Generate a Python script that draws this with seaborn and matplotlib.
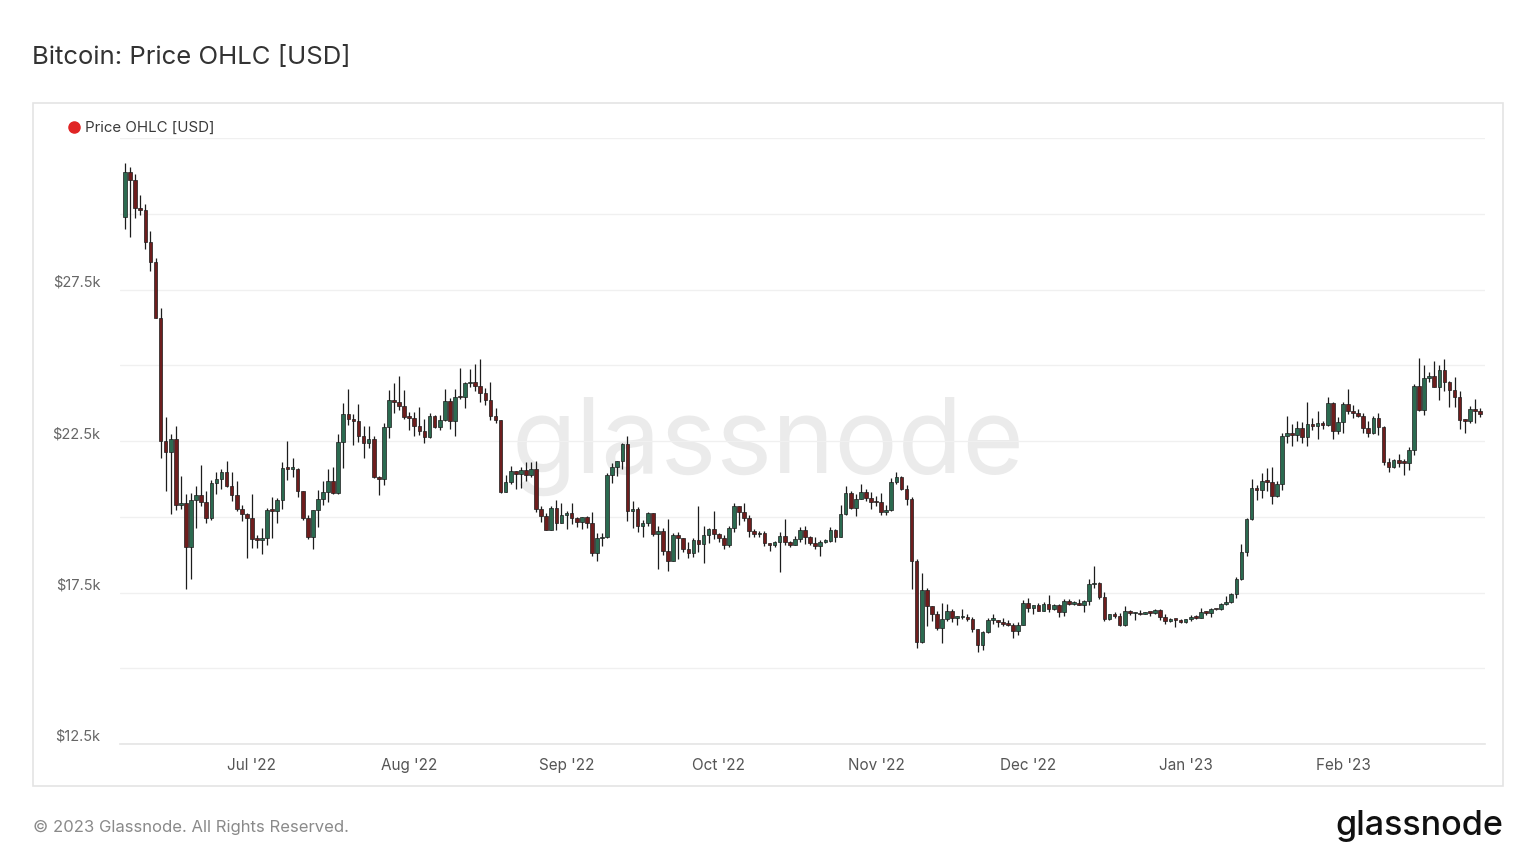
import matplotlib
matplotlib.use("Agg")
import matplotlib.pyplot as plt
import matplotlib.dates as mdates
from matplotlib.patches import Rectangle
from matplotlib.lines import Line2D
import numpy as np
import pandas as pd
import seaborn as sns

# daily BTC candles, prices in thousand USD, first day 2022-06-06
first_day = "2022-06-06"
first_open = 29.90

close_jun = [31.37, 31.13, 30.20, 30.11, 29.08, 28.42, 26.57, 22.49, 22.14, 22.58, 20.38, 20.47, 19.00,
             20.55, 20.71, 20.50, 19.97, 21.10, 21.23, 21.49, 21.03, 20.73, 20.27, 20.10, 19.95]
high_jun = [31.69, 31.55, 31.32, 30.63, 30.33, 29.44, 28.54, 26.88, 23.30, 22.73, 22.98, 21.33, 20.76,
            20.79, 21.00, 21.70, 20.85, 21.20, 21.48, 21.58, 21.85, 21.48, 21.18, 20.40, 20.14]
low_jun = [29.51, 29.22, 29.86, 29.95, 28.85, 28.10, 26.56, 21.93, 20.85, 20.08, 20.23, 20.25, 17.62,
           17.94, 19.64, 20.35, 19.80, 19.90, 20.75, 20.90, 20.99, 20.52, 20.19, 19.85, 18.63]

close_jul = [19.27, 19.24, 19.30, 20.23, 20.19, 20.55, 21.62, 21.59, 21.59, 20.85, 19.96, 19.33, 20.21,
             20.57, 20.83, 21.19, 20.78, 22.48, 23.39, 23.23, 23.16, 22.68, 22.45, 22.58, 21.31, 21.25,
             22.95, 23.85, 23.78, 23.64, 23.30]
high_jul = [20.75, 19.40, 19.63, 20.30, 20.65, 20.62, 21.81, 22.49, 21.95, 21.60, 20.85, 20.05, 20.23,
            20.87, 21.19, 21.56, 21.65, 22.72, 23.75, 24.20, 23.40, 23.73, 22.98, 23.01, 22.65, 21.33,
            23.08, 24.18, 24.41, 24.65, 24.17]
low_jul = [18.97, 18.98, 18.78, 19.06, 19.30, 19.78, 20.25, 21.20, 21.31, 20.65, 19.90, 19.26, 18.95,
           19.65, 20.40, 20.50, 20.76, 20.76, 21.60, 23.02, 22.36, 22.48, 21.94, 22.27, 21.27, 20.73,
           21.05, 22.59, 23.42, 23.51, 23.22]

close_aug = [23.27, 22.98, 22.82, 22.62, 23.31, 22.96, 23.18, 23.81, 23.16, 23.95, 23.94, 24.40, 24.44,
             24.30, 24.10, 23.85, 23.34, 23.19, 20.83, 21.15, 21.52, 21.40, 21.53, 21.37, 21.57, 20.25,
             20.04, 19.56, 20.28, 19.81, 20.05]
high_aug = [23.46, 23.45, 23.63, 23.21, 23.43, 23.35, 23.36, 24.23, 23.93, 24.20, 24.90, 24.45, 24.88,
            25.05, 25.20, 24.25, 24.45, 23.60, 23.20, 21.37, 21.69, 21.43, 21.65, 21.82, 21.80, 21.85,
            20.34, 20.14, 20.37, 20.55, 20.47]
low_aug = [22.85, 22.66, 22.69, 22.43, 22.59, 22.94, 22.87, 23.15, 22.88, 22.68, 23.87, 23.60, 24.29,
           24.14, 23.80, 23.70, 23.20, 23.10, 20.78, 20.85, 21.08, 20.90, 20.95, 21.17, 21.32, 20.15,
           19.82, 19.56, 19.56, 19.55, 19.80]

close_sep = [20.13, 19.95, 19.83, 19.99, 19.81, 18.79, 19.29, 19.32, 21.37, 21.65, 21.83, 22.40, 20.18,
             20.24, 19.70, 19.80, 20.11, 19.42, 19.54, 18.88, 18.55, 19.41, 19.30, 18.93, 18.80, 19.23,
             19.09, 19.41, 19.59, 19.42]
high_sep = [20.20, 20.44, 20.00, 20.00, 20.03, 20.17, 19.45, 19.46, 21.44, 21.79, 21.85, 22.42, 22.67,
            20.52, 20.33, 19.88, 20.17, 20.11, 19.68, 19.63, 19.94, 19.48, 19.50, 19.31, 19.18, 19.31,
            20.34, 19.69, 19.64, 20.18]
low_sep = [19.58, 19.75, 19.65, 19.60, 19.64, 18.71, 18.55, 19.02, 19.30, 21.11, 21.36, 21.56, 19.86,
           19.63, 19.50, 19.34, 19.70, 19.36, 18.28, 18.75, 18.20, 18.55, 18.60, 18.83, 18.65, 18.68,
           18.85, 18.47, 19.15, 19.25]

close_oct = [19.31, 19.06, 19.62, 20.34, 20.16, 19.96, 19.53, 19.42, 19.45, 19.14, 19.06, 19.16, 19.38,
             19.18, 19.07, 19.27, 19.55, 19.33, 19.12, 19.04, 19.17, 19.21, 19.57, 19.33, 20.09, 20.77,
             20.29, 20.60, 20.82, 20.63, 20.49]
high_oct = [19.48, 19.39, 19.70, 20.46, 20.36, 20.44, 20.05, 19.60, 19.52, 19.52, 19.15, 19.21, 19.51,
            19.93, 19.20, 19.36, 19.66, 19.70, 19.35, 19.34, 19.24, 19.25, 19.67, 19.60, 20.40, 21.00,
            20.86, 20.75, 21.07, 20.90, 20.82]
low_oct = [19.18, 18.93, 19.00, 19.50, 19.73, 19.87, 19.34, 19.32, 19.32, 19.02, 18.88, 18.99, 18.19,
           19.08, 19.00, 19.06, 19.16, 19.11, 19.07, 18.93, 18.70, 19.13, 19.16, 19.16, 19.32, 20.06,
           20.24, 20.02, 20.58, 20.52, 20.25]

close_nov = [20.48, 20.16, 20.21, 21.15, 21.30, 20.91, 20.60, 18.54, 15.88, 17.59, 17.04, 16.80, 16.33,
             16.62, 16.90, 16.66, 16.69, 16.70, 16.63, 16.28, 15.78, 16.20, 16.60, 16.60, 16.52, 16.45,
             16.44, 16.22, 16.44, 17.16]
high_nov = [20.67, 20.78, 20.39, 21.27, 21.47, 21.36, 21.05, 20.66, 18.59, 18.15, 17.64, 17.07, 16.88,
            17.15, 17.11, 16.96, 16.74, 16.94, 16.79, 16.70, 16.28, 16.23, 16.67, 16.78, 16.60, 16.66,
            16.59, 16.48, 16.52, 17.24]
low_nov = [20.36, 20.07, 20.05, 20.20, 21.08, 20.89, 20.39, 17.60, 15.68, 15.82, 16.40, 16.56, 16.25,
           15.82, 16.56, 16.52, 16.44, 16.63, 16.55, 16.20, 15.53, 15.60, 16.17, 16.47, 16.36, 16.40,
           16.40, 16.00, 16.11, 16.43]

close_dec = [16.98, 17.09, 16.89, 17.11, 16.97, 17.09, 16.84, 17.22, 17.13, 17.13, 17.09, 17.21, 17.78,
             17.81, 17.36, 16.63, 16.78, 16.74, 16.44, 16.90, 16.82, 16.83, 16.78, 16.84, 16.83, 16.92,
             16.70, 16.55, 16.63, 16.60, 16.54]
high_dec = [17.32, 17.10, 17.16, 17.20, 17.42, 17.11, 17.13, 17.30, 17.30, 17.22, 17.27, 17.24, 17.95,
            18.39, 17.85, 17.53, 16.80, 16.86, 16.81, 17.04, 16.91, 16.86, 16.93, 16.86, 16.86, 16.94,
            16.96, 16.78, 16.65, 16.62, 16.63]
low_dec = [16.86, 16.79, 16.88, 16.88, 16.87, 16.91, 16.68, 16.74, 17.10, 17.09, 17.08, 16.87, 17.09,
           17.66, 17.28, 16.57, 16.58, 16.67, 16.40, 16.40, 16.76, 16.59, 16.76, 16.79, 16.73, 16.79,
           16.60, 16.47, 16.51, 16.35, 16.48]

close_jan = [16.62, 16.68, 16.67, 16.85, 16.83, 16.95, 16.94, 17.12, 17.18, 17.44, 17.94, 18.85, 19.93,
             20.95, 20.87, 21.17, 21.16, 20.68, 21.08, 22.67, 22.78, 22.71, 22.92, 22.63, 23.06, 23.01,
             23.08, 23.03, 23.74, 22.83, 23.14]
high_jan = [16.63, 16.76, 16.76, 16.98, 16.88, 16.99, 16.97, 17.16, 17.40, 17.49, 18.00, 19.10, 19.97,
            21.26, 21.05, 21.44, 21.62, 21.65, 21.18, 22.75, 23.31, 23.07, 23.16, 23.13, 23.80, 23.25,
            23.50, 23.17, 23.95, 23.80, 23.30]
low_jan = [16.50, 16.57, 16.62, 16.66, 16.75, 16.68, 16.91, 16.92, 17.10, 17.14, 17.32, 17.91, 18.71,
           19.89, 20.55, 20.63, 20.85, 20.42, 20.66, 20.87, 22.42, 22.32, 22.51, 22.45, 22.35, 22.85,
           22.55, 22.88, 23.00, 22.55, 22.72]

close_feb = [23.72, 23.49, 23.43, 23.33, 22.93, 22.76, 23.26, 22.96, 21.80, 21.63, 21.86, 21.79, 21.78,
             22.20, 24.33, 23.52, 24.57, 24.63, 24.28, 24.84, 24.44, 24.19, 23.94, 23.19, 23.16, 23.56,
             23.49, 23.40]
high_feb = [23.79, 24.22, 23.68, 23.55, 23.42, 23.15, 23.34, 23.43, 22.98, 21.93, 21.90, 22.07, 21.89,
            22.30, 24.37, 25.25, 25.00, 24.77, 25.13, 25.02, 25.22, 24.47, 24.60, 24.14, 23.21, 23.67,
            23.87, 23.60]
low_feb = [22.77, 23.39, 23.25, 23.28, 22.77, 22.64, 22.74, 22.69, 21.70, 21.48, 21.61, 21.64, 21.38,
           21.55, 22.05, 23.50, 23.35, 24.45, 24.27, 23.85, 24.15, 23.62, 23.63, 22.90, 22.76, 23.10,
           23.10, 23.30]

month_ticks = ["2022-07-01", "2022-08-01", "2022-09-01", "2022-10-01", "2022-11-01",
               "2022-12-01", "2023-01-01", "2023-02-01"]
y_ticks = [12.5, 15, 17.5, 20, 22.5, 25, 27.5, 30, 32.5]
y_labels = ["$12.5k", "", "$17.5k", "", "$22.5k", "", "$27.5k", "", ""]

GREEN = "#2b6a50"
RED = "#6e1d1d"
WICK = "#1c1c1c"

closes = close_jun + close_jul + close_aug + close_sep + close_oct + close_nov + close_dec + close_jan + close_feb
highs = high_jun + high_jul + high_aug + high_sep + high_oct + high_nov + high_dec + high_jan + high_feb
lows = low_jun + low_jul + low_aug + low_sep + low_oct + low_nov + low_dec + low_jan + low_feb

df = pd.DataFrame({
    "date": pd.date_range(first_day, periods=len(closes), freq="D"),
    "close": closes, "high": highs, "low": lows,
})
df["open"] = [first_open] + closes[:-1]
df["high"] = df[["high", "open", "close"]].max(axis=1)
df["low"] = df[["low", "open", "close"]].min(axis=1)

sns.set_theme(style="white")
plt.rcParams["font.family"] = ["Inter", "DejaVu Sans"]

W, H = 1536, 864
fig = plt.figure(figsize=(W / 100, H / 100), dpi=100)
fig.patch.set_facecolor("white")


def fx(x):
    return x / W


def fy(y):
    return 1 - y / H


# panel frame
fig.add_artist(Rectangle((fx(33), fy(786)), fx(1503) - fx(33), fy(103) - fy(786),
                         transform=fig.transFigure, fc="white", ec="#e4e4e4", lw=1.2, zorder=0))

ax = fig.add_axes([fx(120), fy(744), fx(1485) - fx(120), fy(138) - fy(744)])
ax.set_facecolor("none")

# watermark
ax.text(0.4747, 0.448, "glassnode", transform=ax.transAxes, ha="center", va="baseline",
        fontsize=76, color="#ebebeb", zorder=0)

x = mdates.date2num(df["date"])
up = (df["close"] >= df["open"]).to_numpy()
body_low = np.minimum(df["open"], df["close"])
body_h = np.maximum((df["close"] - df["open"]).abs(), 0.05)
ax.vlines(x, df["low"], df["high"], color=WICK, lw=0.9, zorder=2)
ax.bar(x, body_h, bottom=body_low, width=0.72, color=np.where(up, GREEN, RED),
       edgecolor=WICK, linewidth=0.5, zorder=3)

ax.set_xlim(mdates.date2num(pd.Timestamp("2022-06-05")), mdates.date2num(pd.Timestamp("2023-03-01")))
ax.set_ylim(12.5, 32.5)

ax.set_xticks(mdates.date2num(pd.to_datetime(month_ticks)))
ax.xaxis.set_major_formatter(mdates.DateFormatter("%b '%y"))
ax.set_yticks(y_ticks)
ax.set_yticklabels(y_labels)
for t in ax.get_yticklabels():
    t.set_verticalalignment("bottom")

ax.tick_params(axis="x", length=4, width=1, color="#e6e6e6", pad=6, labelsize=11, labelcolor="#555555")
ax.tick_params(axis="y", length=0, pad=14, labelsize=10.5, labelcolor="#666666")
ax.grid(axis="y", color="#f0f0f0", lw=1, zorder=0)
ax.grid(axis="x", visible=False)
sns.despine(ax=ax, left=True, top=True, right=True)
ax.spines["bottom"].set_color("#e6e6e6")
ax.set_axisbelow(True)

# titles, legend, footer
fig.text(fx(32), fy(64), "Bitcoin: Price OHLC [USD]", ha="left", va="baseline",
         fontsize=18.5, color="#333333")
fig.add_artist(Line2D([fx(74)], [fy(127)], marker="o", ms=8, color="#e02424",
                      transform=fig.transFigure))
fig.text(fx(85), fy(132), "Price OHLC [USD]", ha="left", va="baseline", fontsize=10.8, color="#3a3a3a")
fig.text(fx(33), fy(832), "\u00a9 2023 Glassnode. All Rights Reserved.", ha="left", va="baseline",
         fontsize=12, color="#8a8a8a")
fig.text(fx(1503), fy(835), "glassnode", ha="right", va="baseline", fontsize=24.5,
         fontweight="medium", color="#111111")

fig.savefig("out.png", dpi=100, facecolor="white")
